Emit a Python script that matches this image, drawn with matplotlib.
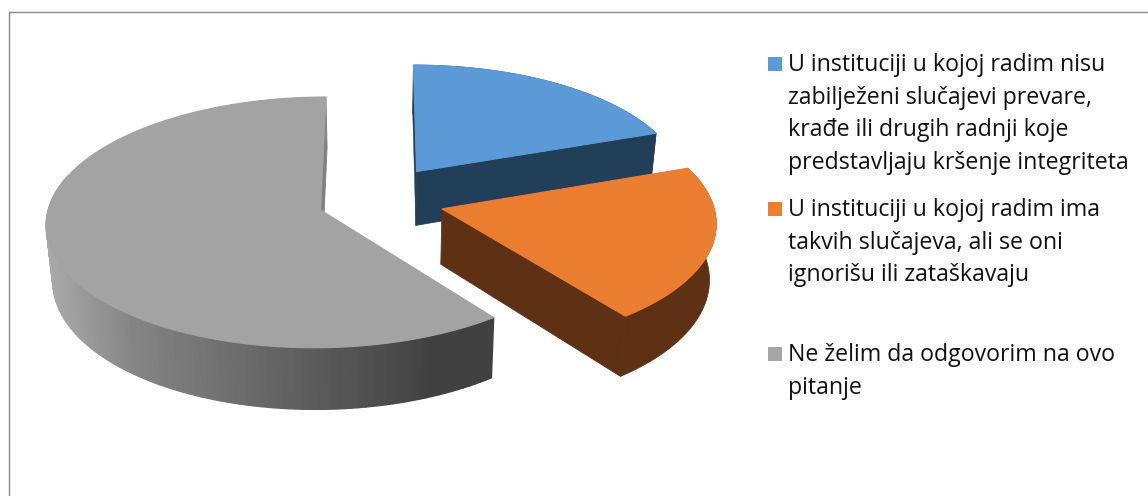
import numpy as np
import matplotlib
matplotlib.use("Agg")
import matplotlib.pyplot as plt
from matplotlib.collections import PolyCollection
from matplotlib.patches import Polygon, Rectangle

labels = [
    "U instituciji u kojoj radim nisu\nzabilježeni slučajevi prevare,\nkrađe ili drugih radnji koje\npredstavljaju kršenje integriteta",
    "U instituciji u kojoj radim ima\ntakvih slučajeva, ali se oni\nignorišu ili zataškavaju",
    "Ne želim da odgovorim na ovo\npitanje",
]
values = [19.5, 20.2, 60.3]
top_colors = ["#5b9ad6", "#eb7d30", "#a3a3a3"]
wall_colors = ["#223f59", "#5f3114", None]
legend_colors = ["#5b9bd5", "#ed7d31", "#a5a5a5"]
legend_baselines = [71, 216, 361]

# Projection of the tilted pie onto the page (pixel coordinates)
OX, OY, A, B, K = 381, 199, 270, 122, 0.098
EXPLODE, EXPLODE_Y, DEPTH, VX, XSHRINK = 0.234, 1.2, 55, 380, 0.98
RIM_LAST_ANGLE = np.deg2rad(285)


def project(X, Y, lower=False):
    s = 1 / (1 + K * Y)
    x = OX + A * X * s
    y = OY - B * Y * s
    if lower:
        y = y + DEPTH * s
        x = VX + (x - VX) * XSHRINK
    return x, y


def gray_wall_color(x):
    stops_x = [50, 130, 300, 430, 490]
    stops_v = [0.66, 0.52, 0.37, 0.255, 0.255]
    v = np.interp(x, stops_x, stops_v)
    return (v, v, v)


fig = plt.figure(figsize=(11.48, 4.96), dpi=100)
ax = fig.add_axes([0, 0, 1, 1])
ax.set_xlim(0, 1148)
ax.set_ylim(496, 0)
ax.axis("off")

# chart frame
ax.plot([8.5, 8.5, 1148], [496, 11.5, 11.5], color="#8c8c8c", lw=1.0, zorder=0)

edges = np.concatenate([[0], np.cumsum(values)]) / np.sum(values) * 2 * np.pi
for i, (v0, v1) in enumerate(zip(edges[:-1], edges[1:])):
    mid = (v0 + v1) / 2
    cX, cY = EXPLODE * np.sin(mid), EXPLODE * EXPLODE_Y * np.cos(mid)
    th = np.linspace(v0, v1, 160)
    X = cX + np.sin(th)
    Y = cY + np.cos(th)
    tx, ty = project(X, Y)
    bx, by = project(X, Y, lower=True)
    ctx, cty = project(cX, cY)
    cbx, cby = project(cX, cY, lower=True)

    z = 2 + i * 3
    cut_color = "#808080" if i == 2 else wall_colors[i]
    # only the cut faces that turn toward the viewer
    if i == 0:
        ax.add_patch(Polygon([(ctx, cty), (tx[0], ty[0]), (bx[0], by[0]), (cbx, cby)],
                             fc=cut_color, ec=cut_color, lw=0.3, zorder=z))
    ax.add_patch(Polygon([(ctx, cty), (tx[-1], ty[-1]), (bx[-1], by[-1]), (cbx, cby)],
                         fc=cut_color, ec=cut_color, lw=0.6, zorder=z))
    # rim
    if i == 2:
        js = [j for j in range(len(th) - 1) if th[j] < RIM_LAST_ANGLE]
        side = [gray_wall_color(0.5 * (tx[j] + tx[j + 1])) for j in js]
        quads = [[(tx[j], ty[j]), (tx[j + 1], ty[j + 1]), (bx[j + 1], by[j + 1]), (bx[j], by[j])]
                 for j in js]
        ax.add_collection(PolyCollection(quads, facecolors=side, edgecolors=side, linewidths=1.0, zorder=z))
    else:
        rim = np.column_stack([np.r_[tx, bx[::-1]], np.r_[ty, by[::-1]]])
        ax.add_patch(Polygon(rim, fc=wall_colors[i], ec=wall_colors[i], lw=0.6, zorder=z))
    # top face
    ax.add_patch(Polygon(np.column_stack([np.r_[ctx, tx], np.r_[cty, ty]]),
                         fc=top_colors[i], ec=top_colors[i], lw=0.8, zorder=z + 1))

# legend
for lab, col, base in zip(labels, legend_colors, legend_baselines):
    ax.add_patch(Rectangle((768, base - 14), 14, 14, fc=col, ec="none", zorder=20))
    for n, line in enumerate(lab.split("\n")):
        ax.text(788, base + n * 32.6, line, fontsize=16.7, family="Open Sans",
                color="#111111", va="baseline", ha="left", zorder=20)

fig.savefig("out.png", dpi=100)
